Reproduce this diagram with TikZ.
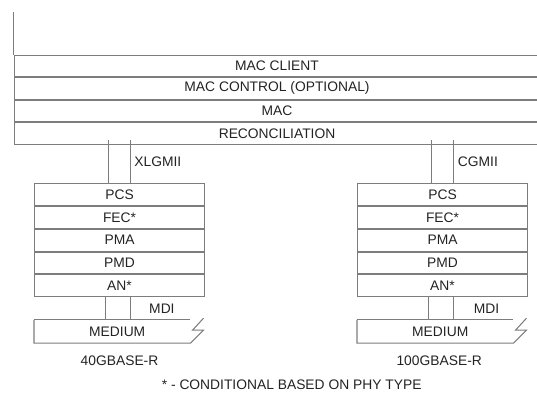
\documentclass[tikz,border=0pt]{standalone}
\usepackage{fontspec}
\setmainfont{Liberation Sans}
\begin{document}
\begin{tikzpicture}[
    wire/.style={draw=lineGray, line width=0.9pt},
    layer/.style={wire, minimum width=15.78cm, minimum height=0.645cm, inner sep=0pt, anchor=north west, font=\fontsize{11.8}{14}\selectfont, text=textGray},
    sublayer/.style={wire, minimum width=5.1cm, minimum height=0.654cm, inner sep=0pt, anchor=north west, font=\fontsize{11.8}{14}\selectfont, text=textGray},
    link/.style={inner sep=0pt},
    lbl/.style={font=\fontsize{11.8}{14}\selectfont, text=textGray}
    ]
    % Colori
    \definecolor{lineGray}{RGB}{125, 125, 125}
    \definecolor{textGray}{RGB}{35, 35, 35}

    % Area del disegno
    \clip (0,0) rectangle (16.11,-11.82);

    % Livelli comuni
    \coordinate (top) at (0.405,-0.36);
    \node[layer] (client) at (0.405,-1.635) {MAC CLIENT};
    \node[layer] (control) at (client.south west) {MAC CONTROL (OPTIONAL)};
    \node[layer] (mac) at (control.south west) {MAC};
    \node[layer] (rec) at (mac.south west) {RECONCILIATION};
    \draw[wire] (top) -- (client.north west);

    % Pila 40G
    \node[sublayer] (pcs40) at (1.02,-5.49) {PCS};
    \node[sublayer] (fec40) at (pcs40.south west) {FEC*};
    \node[sublayer] (pma40) at (fec40.south west) {PMA};
    \node[sublayer] (pmd40) at (pma40.south west) {PMD};
    \node[sublayer] (an40) at (pmd40.south west) {AN*};

    \node[link, minimum width=0.63cm, minimum height=1.275cm, anchor=south] (xlgmii) at (pcs40.north) {};
    \draw[wire] (xlgmii.north west) -- (xlgmii.south west);
    \draw[wire] (xlgmii.north east) -- (xlgmii.south east);
    \node[lbl, anchor=west] at (xlgmii.east) {XLGMII};

    \node[link, minimum width=0.72cm, minimum height=0.66cm, anchor=north] (mdi40) at ([xshift=-0.05cm]an40.south) {};
    \draw[wire] (mdi40.north west) -- (mdi40.south west) -- (mdi40.south east) -- (mdi40.north east);
    \node[lbl, anchor=west, xshift=0.45cm] at (mdi40.east) {MDI};

    \node[lbl, minimum width=4.98cm, minimum height=0.69cm, inner sep=0pt, anchor=north west] (med40) at (an40.south west |- mdi40.south) {MEDIUM};
    \draw[wire] (med40.north west) -- ([xshift=-0.3cm]med40.north east);
    \draw[wire] (med40.north west) -- (med40.south west) -- ([xshift=-0.3cm]med40.south east)
        -- ++(0.39,0.39) -- ++(-0.33,0) -- ++(0.33,0.36);
    \path (pcs40.south |- med40.south) ++(0,-0.54) node[lbl] (phy40) {40GBASE-R};

    % Pila 100G
    \node[sublayer] (pcs100) at (10.71,-5.49) {PCS};
    \node[sublayer] (fec100) at (pcs100.south west) {FEC*};
    \node[sublayer] (pma100) at (fec100.south west) {PMA};
    \node[sublayer] (pmd100) at (pma100.south west) {PMD};
    \node[sublayer] (an100) at (pmd100.south west) {AN*};

    \node[link, minimum width=0.66cm, minimum height=1.275cm, anchor=south] (cgmii) at (pcs100.north) {};
    \draw[wire] (cgmii.north west) -- (cgmii.south west);
    \draw[wire] (cgmii.north east) -- (cgmii.south east);
    \node[lbl, anchor=west] at (cgmii.east) {CGMII};

    \node[link, minimum width=0.72cm, minimum height=0.66cm, anchor=north] (mdi100) at ([xshift=-0.05cm]an100.south) {};
    \draw[wire] (mdi100.north west) -- (mdi100.south west) -- (mdi100.south east) -- (mdi100.north east);
    \node[lbl, anchor=west, xshift=0.5cm] at (mdi100.east) {MDI};

    \node[lbl, minimum width=4.98cm, minimum height=0.69cm, inner sep=0pt, anchor=north west] (med100) at (an100.south west |- mdi100.south) {MEDIUM};
    \draw[wire] (med100.north west) -- ([xshift=-0.3cm]med100.north east);
    \draw[wire] (med100.north west) -- (med100.south west) -- ([xshift=-0.3cm]med100.south east)
        -- ++(0.39,0.39) -- ++(-0.33,0) -- ++(0.33,0.36);
    \path (pcs100.south |- med100.south) ++(-0.1,-0.54) node[lbl] (phy100) {100GBASE-R};

    % Nota
    \node[lbl] (note) at (8.75,-11.55) {* - CONDITIONAL BASED ON PHY TYPE};
\end{tikzpicture}
\end{document}
